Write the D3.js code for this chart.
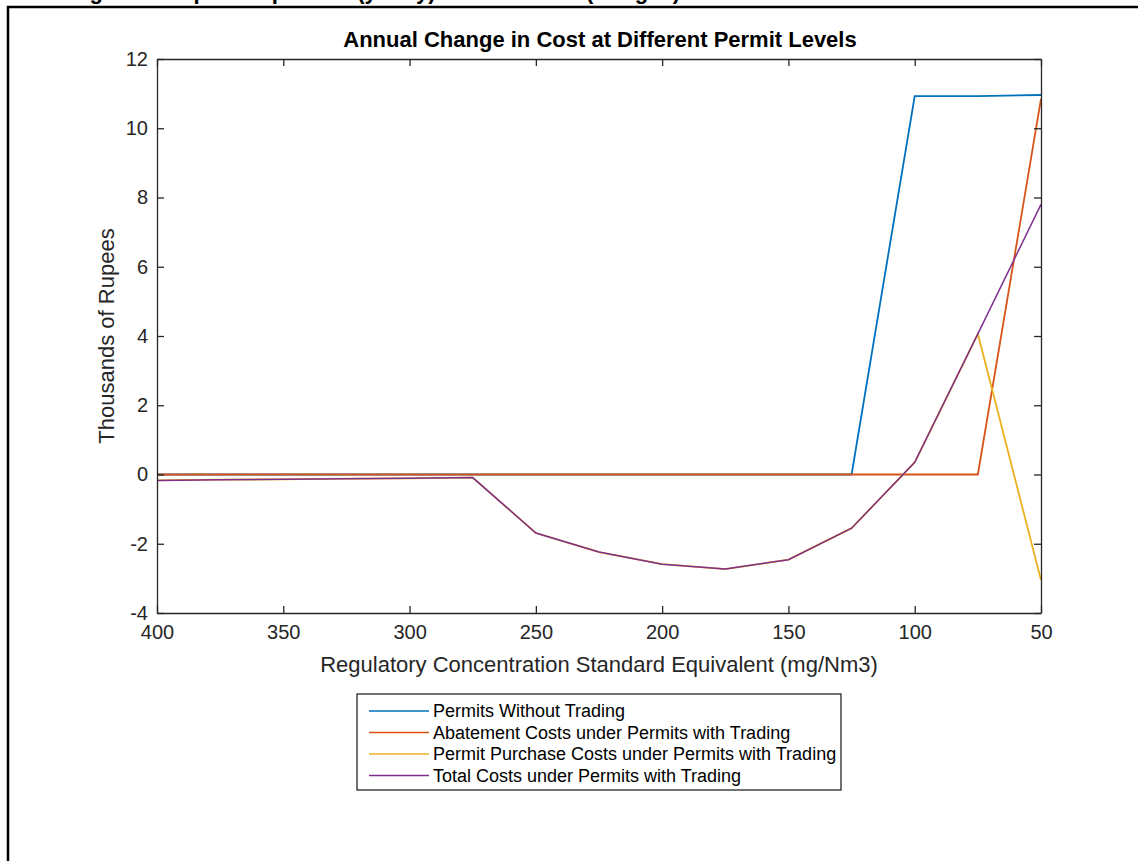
<!DOCTYPE html>
<html>
<head>
<meta charset="utf-8">
<script src="https://cdn.jsdelivr.net/npm/d3@7"></script>
<style>
  body { margin: 0; background: #fff; }
  svg { font-family: "Liberation Sans", Arial, sans-serif; }
</style>
</head>
<body>
<svg width="1138" height="861"></svg>
<script>
// permit level (mg/Nm3)
var levels = [400, 375, 350, 325, 300, 275, 250, 225, 200, 175, 150, 125, 100, 75, 50];

var withoutTrading = [0, 0, 0, 0, 0, 0, 0, 0, 0, 0, 0, 0, 10.93, 10.93, 10.96];
var abatement      = [0, 0, 0, 0, 0, 0, 0, 0, 0, 0, 0, 0, 0, 0, 10.85];
var purchase       = [-0.17, -0.15, -0.14, -0.12, -0.11, -0.09, -1.69, -2.24, -2.59, -2.73, -2.46, -1.55, 0.35, 4.06, -3.05];
var totalCost      = [-0.17, -0.15, -0.14, -0.12, -0.11, -0.09, -1.69, -2.24, -2.59, -2.73, -2.46, -1.55, 0.35, 4.06, 7.8];

var seriesNames = ["Permits Without Trading", "Abatement Costs under Permits with Trading",
                   "Permit Purchase Costs under Permits with Trading", "Total Costs under Permits with Trading"];
var seriesColors = ["#0072BD", "#D95319", "#EDB120", "#7E2F8E"];
var xTicks = [400, 350, 300, 250, 200, 150, 100, 50];
var yTicks = [-4, -2, 0, 2, 4, 6, 8, 10, 12];

var svg = d3.select("svg"),
    margin = {top: 59, right: 97, bottom: 248, left: 157},
    width = 1138 - margin.left - margin.right,
    height = 861 - margin.top - margin.bottom;

// page frame, with the cut off caption above it
svg.append("text")
    .attr("x", 70).attr("y", -1.5)
    .attr("font-size", 22).attr("font-weight", "bold")
    .text("Figure 6. Impact of permits (yearly) on firm costs (Ranges)");
svg.append("path")
    .attr("d", "M8,861V7H1138")
    .attr("fill", "none").attr("stroke", "#000").attr("stroke-width", 2.5);

var x = d3.scaleLinear().domain([400, 50]).range([0, width]);
var y = d3.scaleLinear().domain([-4, 12]).range([height, 0]);

var g = svg.append("g")
    .attr("transform", "translate(" + margin.left + "," + margin.top + ")");

var data = [withoutTrading, abatement, purchase, totalCost];

var line = d3.line()
    .x(function(d, i) { return x(levels[i]); })
    .y(function(d) { return y(d); });

g.selectAll(".series").data(data).enter().append("path")
    .attr("class", "series")
    .attr("d", line)
    .attr("fill", "none")
    .attr("stroke", function(d, i) { return seriesColors[i]; })
    .attr("stroke-width", function(d, i) { return i == 3 ? 1.5 : 1.8; });

// axes, box style with ticks inside
var axisColor = "#262626";
var plain = function(d) { return String(d); };  // hyphen minus like the original
function styleAxis(sel) {
    sel.selectAll("path").attr("stroke", axisColor).attr("stroke-width", 1.3);
    sel.selectAll("line").attr("stroke", axisColor).attr("stroke-width", 1.3);
    sel.selectAll("text").attr("fill", axisColor).attr("font-size", 20);
}

g.append("g")
    .attr("transform", "translate(0," + height + ")")
    .call(d3.axisBottom(x).tickValues(xTicks).tickSizeInner(-7).tickSizeOuter(0).tickPadding(12).tickFormat(plain))
    .call(styleAxis);
g.append("g")
    .call(d3.axisTop(x).tickValues(xTicks).tickSizeInner(-7).tickSizeOuter(0).tickFormat(""))
    .call(styleAxis);
g.append("g")
    .call(d3.axisLeft(y).tickValues(yTicks).tickSizeInner(-7).tickSizeOuter(0).tickPadding(9).tickFormat(plain))
    .call(styleAxis);
g.append("g")
    .attr("transform", "translate(" + width + ",0)")
    .call(d3.axisRight(y).tickValues(yTicks).tickSizeInner(-7).tickSizeOuter(0).tickFormat(""))
    .call(styleAxis);

// titles
g.append("text")
    .attr("x", width / 2 + 1).attr("y", -12)
    .attr("text-anchor", "middle")
    .attr("font-size", 22).attr("font-weight", "bold")
    .attr("fill", "#000")
    .text("Annual Change in Cost at Different Permit Levels");
g.append("text")
    .attr("x", width / 2).attr("y", height + 59)
    .attr("text-anchor", "middle")
    .attr("font-size", 22).attr("fill", axisColor)
    .text("Regulatory Concentration Standard Equivalent (mg/Nm3)");
g.append("text")
    .attr("transform", "translate(-43," + (height / 2) + ") rotate(-90)")
    .attr("text-anchor", "middle")
    .attr("font-size", 22).attr("fill", axisColor)
    .text("Thousands of Rupees");

// legend
var legend = svg.append("g").attr("transform", "translate(357,694)");
legend.append("rect")
    .attr("width", 484).attr("height", 96)
    .attr("fill", "#fff").attr("stroke", axisColor).attr("stroke-width", 1.3);
var item = legend.selectAll(".item").data(seriesNames).enter().append("g")
    .attr("class", "item")
    .attr("transform", function(d, i) { return "translate(0," + (17 + i * 21.5) + ")"; });
item.append("line")
    .attr("x1", 12).attr("x2", 72)
    .attr("stroke", function(d, i) { return seriesColors[i]; })
    .attr("stroke-width", 1.6);
item.append("text")
    .attr("x", 76).attr("dy", "0.35em")
    .attr("font-size", 18).attr("fill", "#000")
    .text(function(d) { return d; });
</script>
</body>
</html>
